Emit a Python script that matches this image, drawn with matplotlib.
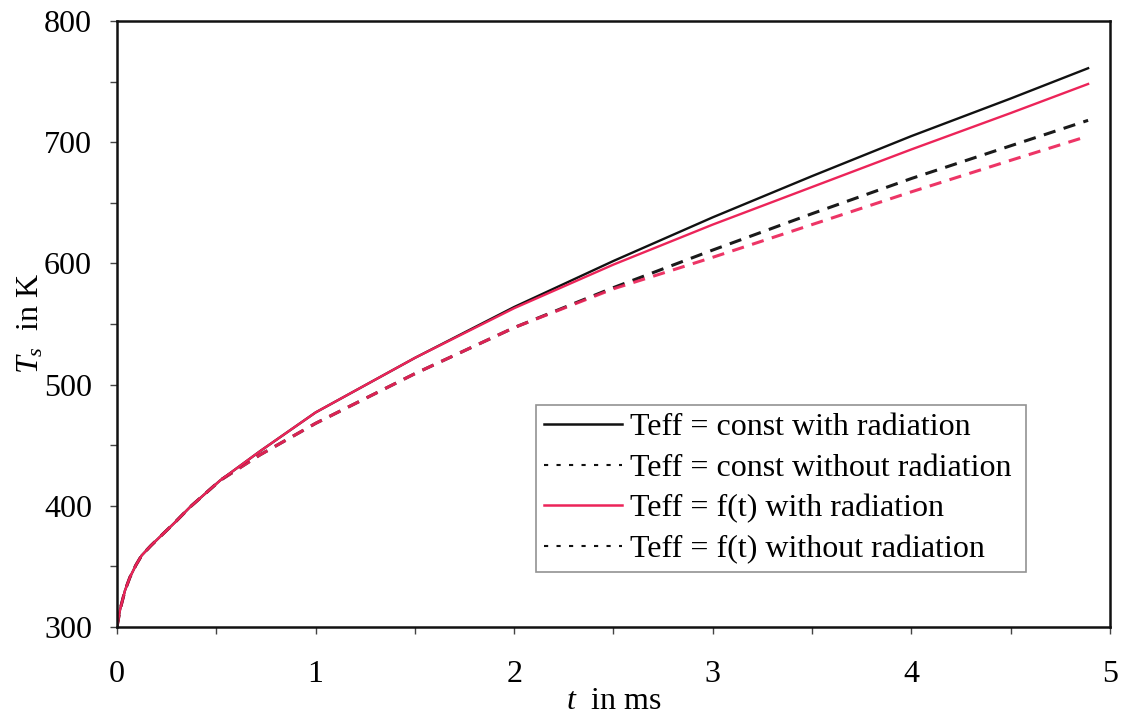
import matplotlib
matplotlib.use("Agg")
import matplotlib.pyplot as plt
from matplotlib.lines import Line2D
from matplotlib.ticker import MultipleLocator

# surface temperature over time
t_ms = [0, 0.015, 0.04, 0.065, 0.095, 0.124, 0.17, 0.217, 0.29, 0.368, 0.52, 0.72, 1.0, 1.5, 2.0, 2.5, 3.0, 3.5, 4.0, 4.5, 4.89]

const_rad = [300, 314, 330, 341, 351, 359, 367, 374.5, 386, 399, 421, 445, 477, 522, 564, 602, 638, 672, 705, 736, 761]
const_norad = [300, 314, 330, 341, 351, 359, 367, 374.5, 386, 399, 421, 442, 468, 509, 547, 580, 611, 641, 670, 697, 718]
ft_rad = [300, 314, 330, 341, 351, 359, 367, 374.5, 386, 399, 421, 445, 477, 522, 563, 599, 632, 663, 694, 724, 748]
ft_norad = [300, 314, 330, 341, 351, 359, 367, 374.5, 386, 399, 421, 442, 468, 509, 547, 579, 605, 632, 659, 685, 705]

labels = ["Teff = const with radiation", "Teff = const without radiation",
          "Teff = f(t) with radiation", "Teff = f(t) without radiation"]

plt.rcParams["font.family"] = "Liberation Serif"
plt.rcParams["mathtext.fontset"] = "custom"
plt.rcParams["mathtext.it"] = "Liberation Serif:italic"
plt.rcParams["mathtext.rm"] = "Liberation Serif"

red = "#ec2459"
dash = (0, (4, 2.8))

fig = plt.figure(figsize=(11.24, 7.15), dpi=100)
ax = fig.add_axes([0.1041, 0.1231, 0.8834, 0.8476])

ax.plot(t_ms, const_norad, color="#1a1a1a", lw=2.2, linestyle=dash)
ax.plot(t_ms, ft_norad, color=red, lw=2.2, linestyle=dash, alpha=0.92)
ax.plot(t_ms, const_rad, color="#111111", lw=1.7)
ax.plot(t_ms, ft_rad, color=red, lw=1.7)

ax.set_xlim(0, 5)
ax.set_ylim(300, 800)
ax.xaxis.set_major_locator(MultipleLocator(1))
ax.xaxis.set_minor_locator(MultipleLocator(0.5))
ax.yaxis.set_major_locator(MultipleLocator(100))
ax.yaxis.set_minor_locator(MultipleLocator(50))
ax.tick_params(which="both", direction="out", length=5, width=1, color="#444444")
ax.tick_params(axis="x", which="both", pad=19, labelsize=23)
ax.tick_params(axis="y", which="both", pad=13, labelsize=23)
for sp in ax.spines.values():
    sp.set_linewidth(1.8)
    sp.set_color("#111111")

ax.set_xlabel(r"$t$  in ms", fontsize=23, labelpad=-2)
ax.set_ylabel(r"$T_s$  in K", fontsize=23, labelpad=-1)

# legend shows both "without radiation" entries as black dotted lines
handles = [
    Line2D([], [], color="#111111", lw=1.8),
    Line2D([], [], color="#111111", lw=1.5, linestyle=(0, (2, 4))),
    Line2D([], [], color=red, lw=1.8),
    Line2D([], [], color="#111111", lw=1.5, linestyle=(0, (2, 4))),
]
leg = ax.legend(handles, labels, loc="lower left", bbox_to_anchor=(0.422, 0.091, 0.493, 0.287),
                mode="expand", fontsize=23, frameon=True, fancybox=False,
                handlelength=2.45, handletextpad=0.25, labelspacing=0.35, borderpad=0.25,
                borderaxespad=0)
leg.get_frame().set_edgecolor("#777777")
leg.get_frame().set_linewidth(1.2)

fig.savefig("out.png", dpi=100)
